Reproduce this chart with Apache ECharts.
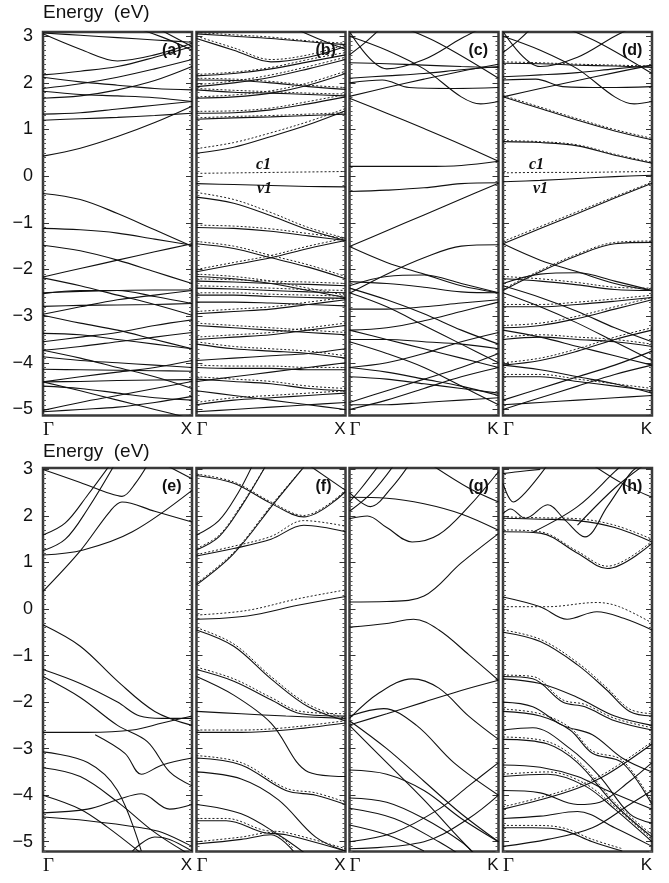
<!DOCTYPE html>
<html><head><meta charset="utf-8">
<script src="https://cdn.jsdelivr.net/npm/echarts@6/dist/echarts.min.js"></script>
<style>html,body{margin:0;padding:0;background:#fff}#c{width:669px;height:883px}</style>
</head><body><div id="c"></div>
<script>
// k-grid used by 5-value bands (Γ ... X/K)
const kGrid = [0, 0.25, 0.5, 0.75, 1];
const panelNames = ['(a)','(b)','(c)','(d)','(e)','(f)','(g)','(h)'];
const endLabels = ['X','X','K','K','X','X','K','K'];

// ---------- (a) ----------
const bandsA = [
 [3.07,3.02,2.97,2.92,2.87],
 [3.05,2.72,2.47,2.6,2.85],
 [[0.55,3.25],[0.8,2.98],[1,2.7]],
 [[0.72,3.25],[1,2.78]],
 [2.17,2.25,2.35,2.55,2.78],
 [2.12,2.02,1.95,1.88,1.85],
 [1.88,1.98,2.12,2.3,2.5],
 [1.82,1.75,1.72,1.68,1.6],
 [1.67,1.72,1.85,2.05,2.35],
 [1.33,1.36,1.44,1.52,1.6],
 [1.2,1.23,1.26,1.3,1.35],
 [0.43,0.6,0.85,1.15,1.5],
 [-0.37,-0.5,-0.8,-1.15,-1.5],
 [-1.12,-1.15,-1.22,-1.35,-1.48],
 [-1.48,-1.6,-1.8,-2.05,-2.3],
 [-2.16,-1.98,-1.8,-1.62,-1.45],
 [-2.18,-2.35,-2.55,-2.75,-2.98],
 [-2.5,-2.47,-2.45,-2.44,-2.44],
 [-2.52,-2.45,-2.45,-2.58,-2.73],
 [-2.79,-2.77,-2.76,-2.75,-2.73],
 [-2.96,-2.8,-2.65,-2.55,-2.45],
 [-2.98,-3.15,-3.3,-3.5,-3.7],
 [-3.37,-3.4,-3.5,-3.6,-3.7],
 [-3.55,-3.45,-3.35,-3.2,-3.08],
 [-3.73,-3.65,-3.55,-3.45,-3.35],
 [-3.87,-3.95,-4.0,-4.05,-4.1],
 [-4.14,-4.15,-4.16,-4.17,-4.18],
 [-4.41,-4.4,-4.38,-4.37,-4.36],
 [-4.41,-4.3,-4.2,-4.1,-3.95],
 [-4.41,-4.6,-4.8,-5.0,-5.2],
 [-4.5,-4.55,-4.65,-4.75,-4.8],
 [-5.02,-4.85,-4.7,-4.55,-4.4],
 [-5.05,-5.0,-4.95,-4.85,-4.72],
 [-3.73,-3.9,-4.1,-4.3,-4.55]
];
const dashA = [];

// ---------- (b) ----------
const bandsB = [
 [3.05,3.0,2.95,2.88,2.82],
 [2.95,2.7,2.45,2.55,2.78],
 [[0.6,3.25],[0.85,2.9],[1,2.72]],
 [2.15,2.2,2.3,2.45,2.6],
 [2.06,2.05,2.0,1.92,1.86],
 [1.92,2.0,2.12,2.3,2.5],
 [1.85,1.8,1.78,1.75,1.72],
 [1.67,1.7,1.78,1.95,2.2],
 [1.35,1.36,1.42,1.55,1.7],
 [1.22,1.25,1.27,1.3,1.33],
 [0.49,0.62,0.85,1.1,1.4],
 [-0.16,-0.18,-0.2,-0.22,-0.23],
 [-0.45,-0.58,-0.85,-1.15,-1.38],
 [-1.1,-1.12,-1.18,-1.28,-1.38],
 [-1.45,-1.55,-1.75,-1.95,-2.2],
 [-2.05,-1.9,-1.75,-1.55,-1.38],
 [-2.15,-2.2,-2.3,-2.45,-2.6],
 [-2.25,-2.27,-2.3,-2.32,-2.35],
 [-2.4,-2.42,-2.45,-2.48,-2.5],
 [-2.55,-2.55,-2.58,-2.6,-2.62],
 [-2.7,-2.7,-2.72,-2.75,-2.78],
 [-2.95,-2.9,-2.85,-2.75,-2.65],
 [-3.2,-3.25,-3.3,-3.35,-3.4],
 [-3.5,-3.45,-3.4,-3.3,-3.2],
 [-3.6,-3.7,-3.75,-3.8,-3.9],
 [-3.95,-3.9,-3.85,-3.8,-3.7],
 [-4.1,-4.12,-4.12,-4.15,-4.15],
 [-4.35,-4.4,-4.45,-4.55,-4.6],
 [-4.4,-4.3,-4.2,-4.1,-4.0],
 [-4.6,-4.7,-4.8,-4.9,-5.0],
 [-4.9,-4.8,-4.75,-4.7,-4.65],
 [-5.05,-5.0,-4.95,-4.9,-4.85]
];
const dashB = [
 [3.08,3.03,2.98,2.9,2.85],
 [3.0,2.75,2.5,2.6,2.82],
 [2.18,2.23,2.33,2.5,2.65],
 [2.1,2.08,2.03,1.95,1.9],
 [1.96,2.04,2.17,2.35,2.55],
 [1.88,1.84,1.81,1.78,1.76],
 [1.7,1.74,1.83,2.0,2.25],
 [1.39,1.4,1.46,1.6,1.75],
 [1.25,1.28,1.3,1.33,1.36],
 [0.59,0.72,0.93,1.17,1.45],
 [0.06,0.07,0.08,0.09,0.1],
 [-0.35,-0.5,-0.78,-1.1,-1.33],
 [-1.05,-1.07,-1.13,-1.23,-1.33],
 [-1.4,-1.5,-1.7,-1.9,-2.15],
 [-2.0,-1.85,-1.7,-1.5,-1.33],
 [-2.1,-2.15,-2.25,-2.4,-2.55],
 [-2.2,-2.22,-2.25,-2.27,-2.3],
 [-2.35,-2.37,-2.4,-2.43,-2.45],
 [-2.5,-2.5,-2.53,-2.55,-2.57],
 [-2.9,-2.85,-2.8,-2.7,-2.6],
 [-3.15,-3.2,-3.25,-3.3,-3.35],
 [-3.45,-3.4,-3.35,-3.25,-3.15],
 [-3.55,-3.65,-3.7,-3.75,-3.85],
 [-4.05,-4.07,-4.07,-4.1,-4.1],
 [-4.3,-4.35,-4.4,-4.5,-4.55],
 [-4.85,-4.75,-4.7,-4.65,-4.6]
];

// ---------- (c) ----------
const bandsC = [
 [2.43,2.41,2.38,2.35,2.33],
 [[0,3.1],[0.25,2.3],[0.5,2.5],[0.75,2.95],[0.9,3.2]],
 [[0,3.0],[0.25,2.7],[0.5,2.3],[0.75,1.7],[0.88,1.55],[1,1.6]],
 [[0,2.6],[0.1,2.85],[0.22,3.2]],
 [[0.35,3.2],[0.6,2.85],[1,2.1]],
 [2.1,2.15,2.2,2.28,2.35],
 [[0,2.0],[0.22,2.06],[0.4,1.9],[0.7,1.88],[1,1.9]],
 [1.71,1.9,2.08,2.25,2.4],
 [1.67,1.35,1.02,0.68,0.32],
 [0.21,0.21,0.21,0.23,0.32],
 [-0.33,-0.3,-0.25,-0.16,-0.14],
 [-1.51,-1.17,-0.83,-0.49,-0.15],
 [-1.51,-1.85,-2.1,-2.35,-2.5],
 [-2.51,-2.1,-1.75,-1.5,-1.47],
 [-2.26,-2.3,-2.38,-2.48,-2.5],
 [-2.35,-2.15,-2.12,-2.3,-2.5],
 [-2.4,-2.65,-2.95,-3.3,-3.6],
 [-2.5,-2.8,-3.2,-3.6,-4.0],
 [-2.85,-2.85,-2.8,-2.72,-2.65],
 [-3.3,-3.25,-3.1,-2.9,-2.7],
 [-3.3,-3.5,-3.7,-3.9,-4.1],
 [-3.5,-3.5,-3.55,-3.6,-3.7],
 [-4.1,-4.0,-3.8,-3.55,-3.35],
 [-4.1,-4.2,-4.35,-4.5,-4.7],
 [-4.3,-4.35,-4.45,-4.55,-4.65],
 [-4.85,-4.6,-4.35,-4.1,-3.8],
 [-4.9,-4.9,-4.85,-4.8,-4.75],
 [-5.0,-4.8,-4.55,-4.3,-4.1],
 [-3.55,-3.8,-4.1,-4.5,-4.9]
];
const dashC = [];

// ---------- (d) ----------
const bandsD = [
 [2.42,2.41,2.38,2.36,2.33],
 [[0,3.1],[0.25,2.35],[0.5,2.55],[0.75,3.0],[0.88,3.2]],
 [[0,3.0],[0.25,2.7],[0.5,2.3],[0.75,1.7],[0.88,1.55],[1,1.6]],
 [[0,2.65],[0.1,2.9],[0.2,3.2]],
 [[0.4,3.2],[0.65,2.85],[1,2.2]],
 [2.13,2.17,2.22,2.3,2.37],
 [[0,2.06],[0.22,2.08],[0.4,1.92],[0.7,1.9],[1,1.92]],
 [1.7,1.88,2.05,2.22,2.38],
 [1.7,1.45,1.2,0.97,0.78],
 [0.74,0.72,0.65,0.45,0.28],
 [-0.12,-0.09,-0.05,-0.01,0.02],
 [-1.45,-1.12,-0.8,-0.47,-0.15],
 [-1.45,-1.8,-2.05,-2.3,-2.45],
 [-2.45,-2.05,-1.7,-1.45,-1.42],
 [-2.2,-2.25,-2.33,-2.43,-2.45],
 [-2.3,-2.1,-2.07,-2.25,-2.45],
 [-2.35,-2.6,-2.9,-3.25,-3.55],
 [-2.5,-2.8,-3.15,-3.55,-3.95],
 [-2.8,-2.8,-2.75,-2.68,-2.6],
 [-3.25,-3.2,-3.05,-2.85,-2.65],
 [-3.3,-3.45,-3.65,-3.85,-4.05],
 [-3.5,-3.45,-3.5,-3.55,-3.65],
 [-4.05,-3.95,-3.75,-3.5,-3.3],
 [-4.05,-4.15,-4.3,-4.45,-4.65],
 [-4.3,-4.3,-4.4,-4.5,-4.6],
 [-4.8,-4.55,-4.3,-4.05,-3.75],
 [-4.9,-4.85,-4.8,-4.75,-4.7],
 [-5.0,-4.75,-4.5,-4.25,-4.05]
];
const dashD = [
 [0.07,0.08,0.08,0.09,0.1],
 [2.45,2.43,2.4,2.38,2.36],
 [1.73,1.48,1.23,1.0,0.81],
 [0.76,0.74,0.67,0.47,0.3],
 [-1.4,-1.08,-0.76,-0.44,-0.13],
 [-2.42,-2.02,-1.67,-1.42,-1.39],
 [-2.15,-2.2,-2.28,-2.38,-2.4],
 [-2.75,-2.75,-2.7,-2.63,-2.55],
 [-3.2,-3.15,-3.0,-2.8,-2.6],
 [-3.45,-3.4,-3.45,-3.5,-3.6],
 [-4.0,-3.9,-3.7,-3.45,-3.25],
 [-4.25,-4.25,-4.35,-4.45,-4.55]
];

// ---------- (e) ----------
const bandsE = [
 [[0,3.0],[0.25,2.72],[0.45,2.48],[0.53,2.42],[0.62,2.7],[0.72,3.2]],
 [[0,0.38],[0.25,1.25],[0.45,2.1],[0.53,2.3],[0.75,2.1],[1,1.87]],
 [[0,1.59],[0.15,1.85],[0.3,2.45],[0.45,3.1]],
 [[0,1.25],[0.15,1.5],[0.3,2.15],[0.48,3.1]],
 [[0,1.16],[0.27,1.27],[0.6,1.66],[1,2.55]],
 [[0.82,3.1],[1,2.8]],
 [[0,-0.34],[0.25,-0.8],[0.5,-1.55],[0.75,-2.2],[1,-2.5]],
 [[0,-1.3],[0.25,-1.6],[0.5,-2.0],[0.65,-2.3],[0.8,-2.35],[1,-2.35]],
 [[0,-1.45],[0.25,-1.9],[0.5,-2.5],[0.7,-2.85],[0.85,-3.5],[1,-3.8]],
 [[0,-2.65],[0.3,-2.65],[0.6,-2.6],[0.8,-2.45],[1,-2.3]],
 [[0,-3.07],[0.3,-3.3],[0.5,-3.9],[0.66,-5.2]],
 [[0,-3.41],[0.25,-3.6],[0.51,-4.17],[0.75,-4.8],[0.97,-5.25]],
 [[0,-4.0],[0.25,-4.3],[0.43,-4.68],[0.66,-5.25]],
 [[0,-4.38],[0.3,-4.3],[0.5,-4.1],[0.66,-3.97],[0.85,-4.3],[1,-4.2]],
 [[0,-4.47],[0.3,-4.55],[0.66,-4.7],[0.8,-4.8],[1,-5.1]],
 [[0.35,-2.7],[0.55,-3.1],[0.66,-3.55],[0.8,-3.35],[1,-3.2]],
 [[0.6,-5.2],[0.75,-4.9],[0.85,-4.95],[1,-5.2]]
];
const dashE = [];

// ---------- (f) ----------
const bandsF = [
 [[0,2.87],[0.25,2.7],[0.5,2.27],[0.72,1.98],[1,2.52]],
 [[0,1.59],[0.15,1.9],[0.28,2.5],[0.37,3.05]],
 [[0,1.27],[0.15,1.55],[0.3,2.2],[0.46,3.05]],
 [[0,1.14],[0.25,1.3],[0.5,1.5],[0.72,1.8],[1,1.66]],
 [[0,0.52],[0.25,1.19],[0.52,2.27],[0.72,3.05]],
 [[0.75,3.1],[1,2.55]],
 [[0,-0.22],[0.34,-0.15],[0.68,0.08],[1,0.27]],
 [[0,-0.45],[0.25,-0.8],[0.5,-1.5],[0.75,-2.1],[1,-2.4]],
 [[0,-1.3],[0.25,-1.55],[0.5,-1.95],[0.7,-2.25],[1,-2.3]],
 [[0,-1.45],[0.25,-1.85],[0.5,-2.45],[0.75,-3.5],[1,-3.6]],
 [[0,-2.2],[0.3,-2.25],[0.6,-2.3],[1,-2.35]],
 [[0,-2.65],[0.3,-2.65],[0.6,-2.6],[1,-2.45]],
 [[0,-3.2],[0.3,-3.35],[0.6,-3.9],[0.8,-4.0],[1,-4.2]],
 [[0,-3.5],[0.3,-3.65],[0.55,-4.1],[0.8,-4.9],[1,-5.2]],
 [[0,-4.2],[0.3,-4.4],[0.55,-4.85],[0.75,-5.3]],
 [[0,-4.55],[0.2,-4.55],[0.45,-4.8],[0.6,-4.85],[1,-5.2]],
 [[0,-5.05],[0.3,-4.95],[0.5,-4.85],[0.65,-5.2]]
];
const dashF = [
 [[0,2.9],[0.25,2.73],[0.5,2.3],[0.72,2.01],[1,2.55]],
 [[0,1.3],[0.15,1.58],[0.3,2.23],[0.46,3.05]],
 [[0,1.17],[0.25,1.35],[0.5,1.56],[0.72,1.9],[1,1.78]],
 [[0,0.55],[0.25,1.22],[0.52,2.3],[0.72,3.05]],
 [[0,-0.13],[0.34,-0.03],[0.68,0.22],[1,0.41]],
 [[0,-0.4],[0.25,-0.75],[0.5,-1.45],[0.75,-2.05],[1,-2.35]],
 [[0,-1.25],[0.25,-1.5],[0.5,-1.9],[0.7,-2.2],[1,-2.25]],
 [[0,-2.6],[0.3,-2.6],[0.6,-2.55],[1,-2.4]],
 [[0,-3.15],[0.3,-3.3],[0.6,-3.85],[0.8,-3.95],[1,-4.15]],
 [[0,-4.5],[0.2,-4.5],[0.45,-4.75],[0.6,-4.8],[1,-5.15]],
 [[0,-5.0],[0.3,-4.9],[0.5,-4.8],[0.65,-5.15]]
];

// ---------- (g) ----------
const bandsG = [
 [2.4,2.38,2.26,2.04,1.69],
 [[0,1.94],[0.12,2.0],[0.25,1.75],[0.42,1.44],[0.6,1.6],[0.8,2.2],[1,2.95]],
 [[0,2.5],[0.14,2.2],[0.28,2.6],[0.4,3.1]],
 [[0,2.1],[0.15,2.5],[0.3,3.1]],
 [[0,2.3],[0.08,2.6],[0.2,3.1]],
 [[0.55,3.1],[0.8,2.6],[1,2.3]],
 [0.15,0.16,0.28,0.99,1.62],
 [[0,-0.39],[0.25,-0.31],[0.43,-0.22],[0.6,-0.45],[0.8,-0.98],[1,-1.53]],
 [[0,-2.35],[0.2,-1.8],[0.42,-1.5],[0.6,-1.7],[0.8,-2.3],[1,-2.8]],
 [[0,-2.49],[0.25,-2.25],[0.5,-2.0],[0.75,-1.75],[1,-1.53]],
 [[0,-2.3],[0.23,-2.14],[0.45,-2.5],[0.7,-3.3],[1,-4.0]],
 [[0,-2.4],[0.25,-3.0],[0.5,-3.7],[0.75,-4.4],[1,-5.0]],
 [[0,-2.5],[0.25,-3.3],[0.5,-4.1],[0.7,-4.8],[0.85,-5.3]],
 [[0,-3.46],[0.25,-3.55],[0.5,-3.9],[0.75,-4.5],[1,-5.0]],
 [[0,-4.06],[0.25,-4.15],[0.5,-4.5],[0.75,-5.0],[0.85,-5.3]],
 [[0,-4.28],[0.3,-4.5],[0.6,-5.0],[0.75,-5.3]],
 [[0,-5.0],[0.3,-4.8],[0.6,-4.3],[0.8,-3.8],[1,-3.3]],
 [[0,-4.64],[0.25,-4.85],[0.5,-5.2]],
 [[0,-5.15],[0.5,-5.0],[0.8,-4.5],[1,-4.0]]
];
const dashG = [];

// ---------- (h) ----------
const bandsH = [
 [[0,2.91],[0.1,2.95],[0.25,3.0]],
 [[0,2.7],[0.07,2.3],[0.15,2.5],[0.3,3.1]],
 [[0,2.05],[0.05,2.15],[0.15,1.95],[0.3,2.24],[0.42,1.9],[0.55,1.55],[0.7,2.2],[0.85,2.9],[0.92,3.1]],
 [[0,1.95],[0.25,1.93],[0.5,1.9],[0.75,1.75],[1,1.44]],
 [[0,1.66],[0.25,1.63],[0.5,1.2],[0.7,0.87],[1,1.41]],
 [[0.2,1.65],[0.5,2.2],[0.75,2.95],[0.8,3.1]],
 [[0.5,1.8],[0.75,2.6],[0.95,3.1]],
 [[0.6,3.1],[0.8,2.7],[1,2.4]],
 [[0,0.26],[0.25,0.05],[0.43,-0.22],[0.63,-0.06],[0.81,-0.2],[1,-0.45]],
 [[0,-0.5],[0.25,-0.7],[0.5,-1.2],[0.7,-1.75],[0.85,-2.2],[1,-2.3]],
 [[0,-1.5],[0.25,-1.6],[0.5,-1.9],[0.75,-2.3],[1,-2.5]],
 [[0,-1.45],[0.2,-1.5],[0.4,-2.0],[0.55,-2.1],[0.75,-2.4],[1,-2.6]],
 [[0,-2.0],[0.2,-2.1],[0.4,-2.5],[0.6,-2.7],[0.8,-3.2],[1,-3.5]],
 [[0,-2.2],[0.25,-2.3],[0.45,-2.6],[0.6,-3.1],[0.8,-3.3],[1,-4.2]],
 [[0,-2.6],[0.2,-2.55],[0.45,-3.0],[0.65,-3.6],[0.85,-4.4],[1,-4.6]],
 [[0,-2.8],[0.3,-2.9],[0.5,-3.3],[0.75,-4.2],[1,-4.9]],
 [[0,-3.35],[0.25,-3.4],[0.5,-3.6],[0.7,-3.9],[1,-4.3]],
 [[0,-3.6],[0.3,-3.55],[0.55,-3.8],[0.75,-4.3],[1,-5.0]],
 [[0,-3.9],[0.25,-3.95],[0.5,-4.2],[0.65,-4.15],[0.85,-3.7],[1,-3.3]],
 [[0,-4.3],[0.25,-4.1],[0.5,-3.85],[0.7,-3.55],[1,-2.9]],
 [[0,-4.5],[0.25,-4.45],[0.5,-4.35],[0.75,-4.7],[1,-5.1]],
 [[0,-4.7],[0.2,-4.7],[0.4,-4.75],[0.6,-5.0],[0.8,-5.2]],
 [[0,-5.1],[0.3,-4.95],[0.6,-4.7],[0.85,-4.2],[1,-3.9]]
];
const dashH = [
 [[0,1.98],[0.25,1.96],[0.5,1.94],[0.75,1.8],[1,1.5]],
 [[0,1.7],[0.25,1.66],[0.5,1.24],[0.7,0.92],[1,1.46]],
 [[0,0.05],[0.3,0.05],[0.63,0.14],[0.78,0.05],[1,-0.3]],
 [[0,-0.45],[0.25,-0.65],[0.5,-1.15],[0.7,-1.7],[0.85,-2.15],[1,-2.25]],
 [[0,-1.42],[0.2,-1.45],[0.4,-1.95],[0.55,-2.05],[0.75,-2.35],[1,-2.55]],
 [[0,-2.15],[0.25,-2.25],[0.45,-2.55],[0.6,-3.05],[0.8,-3.25],[1,-4.15]],
 [[0,-2.75],[0.3,-2.85],[0.5,-3.25],[0.75,-4.15],[1,-4.85]],
 [[0,-3.55],[0.3,-3.5],[0.55,-3.75],[0.75,-4.25],[1,-4.95]],
 [[0,-4.25],[0.25,-4.05],[0.5,-3.8],[0.7,-3.5],[1,-2.85]],
 [[0,-4.65],[0.2,-4.65],[0.4,-4.7],[0.6,-4.95],[0.8,-5.15]]
];

const solidSets = [bandsA,bandsB,bandsC,bandsD,bandsE,bandsF,bandsG,bandsH];
const dashSets  = [dashA,dashB,dashC,dashD,dashE,dashF,dashG,dashH];

// ---------- layout ----------
const colX = [43,196.5,349.5,503];
const rowY = [32,468];
const PW = 149, PH = 383.5;
const yRange = [[-5.13,3.09],[-5.21,3.03]];

function pts(b){ return Array.isArray(b[0]) ? b : b.map((e,i)=>[kGrid[i],e]); }

const grids=[], xAxes=[], yAxes=[], series=[], graphics=[];
for(let p=0;p<8;p++){
  const r = p<4?0:1, c = p%4;
  grids.push({left:colX[c], top:rowY[r], width:PW, height:PH, show:true,
    borderColor:'#3a3a3a', borderWidth:2.5, backgroundColor:'transparent'});
  const endL = endLabels[p];
  xAxes.push({gridIndex:p, type:'value', min:0, max:1, interval:1,
    axisLine:{show:false}, axisTick:{show:false}, splitLine:{show:false},
    axisLabel:{show:true, margin:5, color:'#111',
      formatter:v=> v===0?'{g|Γ}':'{s|'+endL+'}',
      rich:{g:{fontFamily:'Liberation Serif, serif', fontSize:19, color:'#111'},
            s:{fontFamily:'Liberation Sans, Arial, sans-serif', fontSize:17, color:'#111'}},
      alignMinLabel:'left', alignMaxLabel:'right'}});
  const common = {gridIndex:p, type:'value', min:yRange[r][0], max:yRange[r][1], splitNumber:8,
    axisLine:{show:false}, splitLine:{show:false},
    axisTick:{show:true, inside:true, length:6, lineStyle:{color:'#333', width:1}},
    minorTick:{show:true, splitNumber:10, length:3, lineStyle:{color:'#555', width:1}}};
  yAxes.push(Object.assign({}, common, {position:'left',
    axisLabel:{show:(c===0), margin:10, fontSize:18, color:'#111', fontFamily:'Liberation Sans, Arial, sans-serif',
      formatter:v=>{ if(Math.abs(v-Math.round(v))>1e-6) return ''; return v<0?'\u2212'+(-v):String(v);}}}));
  yAxes.push(Object.assign({}, common, {position:'right', axisLabel:{show:false}}));
  const yi = 2*p;
  solidSets[p].forEach(b=>series.push({type:'line', xAxisIndex:p, yAxisIndex:yi, data:pts(b),
    smooth:0.35, showSymbol:false, silent:true, clip:true,
    lineStyle:{color:'#111', width:1.1}}));
  dashSets[p].forEach(b=>series.push({type:'line', xAxisIndex:p, yAxisIndex:yi, data:pts(b),
    smooth:0.35, showSymbol:false, silent:true, clip:true,
    lineStyle:{color:'#222', width:1, type:[2,2]}}));
  graphics.push({type:'text', left:colX[c]+PW-30, top:rowY[r]+11,
    style:{text:panelNames[p], font:'bold 16px Liberation Sans, Arial, sans-serif', fill:'#111'}});
}
graphics.push({type:'text', left:43, top:3, style:{text:'Energy  (eV)', font:'19px Liberation Sans, Arial, sans-serif', fill:'#111'}});
graphics.push({type:'text', left:43, top:442, style:{text:'Energy  (eV)', font:'19px Liberation Sans, Arial, sans-serif', fill:'#111'}});
const italic = 'italic bold 16px Liberation Serif, serif';
graphics.push({type:'text', left:256, top:157, style:{text:'c1', font:italic, fill:'#111'}});
graphics.push({type:'text', left:257, top:181, style:{text:'v1', font:italic, fill:'#111'}});
graphics.push({type:'text', left:529, top:157, style:{text:'c1', font:italic, fill:'#111'}});
graphics.push({type:'text', left:533, top:181, style:{text:'v1', font:italic, fill:'#111'}});

const chart = echarts.init(document.getElementById('c'), null, {renderer:'canvas'});
chart.setOption({animation:false, backgroundColor:'#fff', grid:grids, xAxis:xAxes, yAxis:yAxes, series:series, graphic:graphics});
</script>
</body></html>
